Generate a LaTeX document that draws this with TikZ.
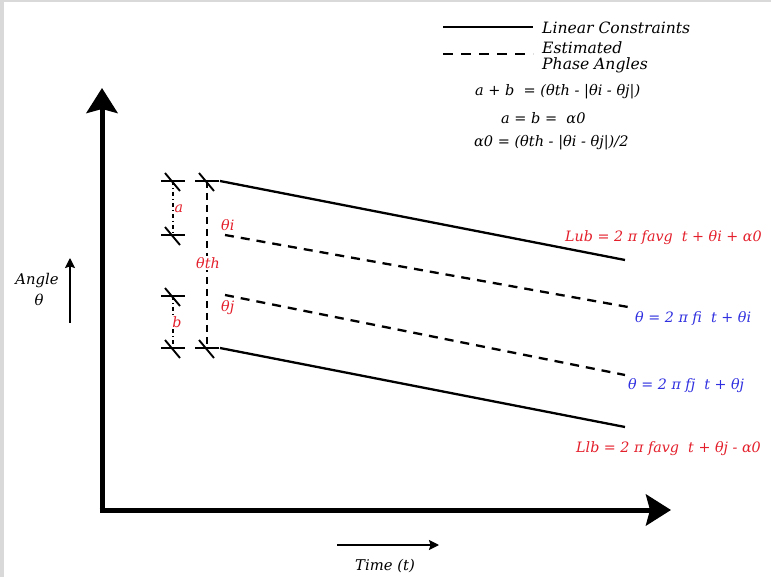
\documentclass[tikz,border=0pt]{standalone}
\usepackage{fontspec}
\setmainfont{DejaVu Serif}
\usetikzlibrary{arrows.meta}
\definecolor{lblred}{RGB}{228,32,44}
\definecolor{lblblue}{RGB}{48,48,225}
\definecolor{edgegray}{RGB}{217,217,217}
\tikzset{
  axis/.style={line width=5pt,-{Stealth[length=25pt,width=31pt,inset=4pt]}},
  smallarrow/.style={line width=1.6pt,-{Stealth[length=10pt,width=10pt,inset=1.5pt]}},
  solidline/.style={line width=2.3pt},
  dashline/.style={line width=2.3pt,dash pattern=on 9pt off 7pt},
  thdash/.style={line width=2.4pt,dash pattern=on 7pt off 5pt},
  dotdash/.style={line width=1.4pt,dash pattern=on 4pt off 3pt on 1pt off 3pt},
  tickmark/.pic={\draw[line width=1.9pt] (-12,0) -- (12,0); \draw[line width=1.9pt] (-8,-8) -- (7,10);},
  txt/.style={font=\itshape\fontsize{15.6}{18}\selectfont, inner sep=0pt},
  eq/.style={font=\itshape\fontsize{14.5}{17}\selectfont, inner sep=0pt},
  lbl/.style={font=\itshape\fontsize{14.3}{17}\selectfont, inner sep=0pt},
  axlbl/.style={font=\itshape\fontsize{14.8}{17}\selectfont, inner sep=0pt},
}
\begin{document}
\begin{tikzpicture}[x=1pt,y=-1pt]
\useasboundingbox (0,0) rectangle (771,577);
\fill[edgegray] (0,0) rectangle (771,577);
\fill[white] (4,2) rectangle (771,577);

% axes
\coordinate (O) at (102,510);
\coordinate (Ytip) at (102,88);
\coordinate (Xtip) at (671,510);
\draw[axis] (O) -- (Ytip);
\draw[axis] ([xshift=-2.5pt]O) -- (Xtip);

% small axis arrows and labels
\coordinate (a1) at (70,323);
\coordinate (a2) at (70,258);
\draw[smallarrow] (a1) -- (a2);
\node[axlbl] (angle) at (37,281) {Angle};
\node[axlbl] (thetaax) at (39,300) {θ};
\coordinate (t1) at (337,545);
\coordinate (t2) at (439,545);
\draw[smallarrow] (t1) -- (t2);
\node[axlbl] (time) at (385,566) {Time (t)};

% legend
\coordinate (l1a) at (443,27); \coordinate (l1b) at (533,27);
\coordinate (l2a) at (443,54); \coordinate (l2b) at (533,54);
\draw[solidline] (l1a) -- (l1b);
\draw[line width=2.3pt,dash pattern=on 10pt off 8pt] (l2a) -- (l2b);
\node[txt,anchor=west] (lc) at (542,28) {Linear Constraints};
\node[txt,anchor=west] (ep1) at (542,48) {Estimated};
\node[txt,anchor=west] (ep2) at (542,65) {Phase Angles};

% equations
\node[eq,anchor=west] (eq1) at (475,92) {a + b \ = (θth - \textup{|}θi - θj\textup{|})};
\node[eq,anchor=west] (eq2) at (501,118) {a = b = \ α0};
\node[eq,anchor=west] (eq3) at (474,143) {α0 = (θth - \textup{|}θi - θj\textup{|})/2};

% lines
\coordinate (ub1) at (220,181); \coordinate (ub2) at (625,260);
\coordinate (di1) at (225,235); \coordinate (di2) at (628,307);
\coordinate (dj1) at (225,295); \coordinate (dj2) at (625,375);
\coordinate (lb1) at (220,348); \coordinate (lb2) at (625,427);
\draw[solidline] (ub1) -- (ub2);
\draw[dashline] (di1) -- (di2);
\draw[dashline] (dj1) -- (dj2);
\draw[solidline] (lb1) -- (lb2);

% tick marks
\coordinate (tL1) at (173,181); \coordinate (tL2) at (173,235);
\coordinate (tL3) at (173,296); \coordinate (tL4) at (173,348);
\coordinate (tR1) at (207,181); \coordinate (tR2) at (207,348);
\draw[dotdash] (tL1) -- (tL2);
\draw[dotdash] (tL3) -- (tL4);
\draw[thdash] (tR1) -- (tR2);
\foreach \p in {tL1,tL2,tL3,tL4,tR1,tR2} \pic at (\p) {tickmark};

% small labels
\node[lbl,text=lblred,fill=white,inner sep=0.5pt] (la) at (179,209) {a};
\node[lbl,text=lblred,fill=white,inner sep=0.5pt] (lbb) at (177,322) {b};
\node[lbl,text=lblred,anchor=west] (lti) at (221,225) {θi};
\node[lbl,text=lblred,fill=white,inner sep=1pt] (lth) at (208,263) {θth};
\node[lbl,text=lblred,anchor=west] (ltj) at (221,308) {θj};

% right labels
\node[lbl,text=lblred,anchor=west] (lub) at (565,238) {Lub = 2 π favg \ t + θi + α0};
\node[lbl,text=lblblue,anchor=west] (thi) at (635,318) {θ = 2 π fi \ t + θi};
\node[lbl,text=lblblue,anchor=west] (thj) at (628,386) {θ = 2 π fj \ t + θj};
\node[lbl,text=lblred,anchor=west] (llb) at (576,449) {Llb = 2 π favg \ t + θj - α0};
\end{tikzpicture}
\end{document}
